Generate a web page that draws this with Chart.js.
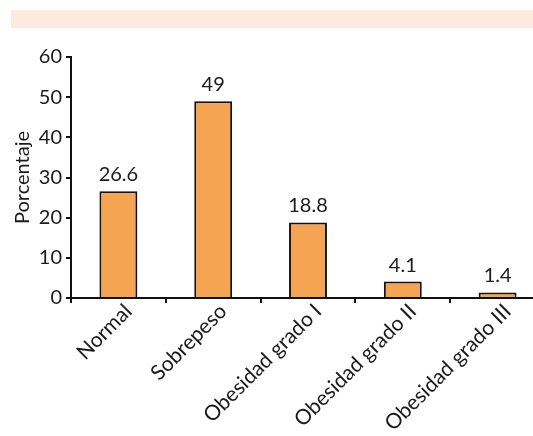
<!DOCTYPE html>
<html>
<head>
<meta charset="utf-8">
<script src="https://cdn.jsdelivr.net/npm/chart.js@4/dist/chart.umd.min.js"></script>
<style>
    html, body { margin: 0; padding: 0; background: #fff; overflow: hidden; width: 533px; height: 436px; }
    #band { position: absolute; left: 11px; top: 10px; width: 522px; height: 18px; background: #fcebdd; }
    #wrap { position: absolute; left: 0; top: 0; width: 545px; height: 436px; }
</style>
</head>
<body>
<div id="band"></div>
<div id="wrap"><canvas id="bmi-chart"></canvas></div>
<script>
const categories = ["Normal", "Sobrepeso", "Obesidad grado I", "Obesidad grado II", "Obesidad grado III"];
const percentages = [26.6, 49, 18.8, 4.1, 1.4];
const yTicks = [0, 10, 20, 30, 40, 50, 60];

const FONT = "Lato, 'Open Sans', sans-serif";
const INK = "#1a1a1a";

// writes each bar's value just above it
const valueLabels = {
    id: "valueLabels",
    afterDatasetsDraw(chart){
        const ctx = chart.ctx;
        const meta = chart.getDatasetMeta(0);
        ctx.save();
        ctx.font = `20px ${FONT}`;
        ctx.fillStyle = INK;
        ctx.textAlign = "center";
        ctx.textBaseline = "alphabetic";
        meta.data.forEach((bar, i)=>{
            ctx.fillText(String(percentages[i]), bar.x, bar.y - 10);
        });
        ctx.restore();
    }
};

const ctx = document.querySelector("#bmi-chart").getContext("2d");
new Chart(ctx, {
    type: "bar",
    data: {
        labels: categories,
        datasets: [{
            data: percentages,
            backgroundColor: "#f5a452",
            borderColor: "#111",
            borderWidth: 2,
            borderSkipped: "bottom",
            barPercentage: 0.4,
            categoryPercentage: 1.0
        }]
    },
    options: {
        responsive: true,
        maintainAspectRatio: false,
        animation: false,
        layout: { padding: { top: 57, left: 0, right: 0, bottom: 0 } },
        plugins: { legend: { display: false }, tooltip: { enabled: false } },
        scales: {
            x: {
                offset: true,
                grid: { display: true, drawOnChartArea: false, offset: true, tickLength: 5, color: "#111", lineWidth: 2 },
                border: { display: true, color: "#111", width: 2 },
                ticks: {
                    autoSkip: false,
                    minRotation: 45,
                    maxRotation: 45,
                    padding: -4,
                    labelOffset: 10,
                    color: INK,
                    font: { family: FONT, size: 21 }
                },
                afterFit(scale){ scale.height = 138; }
            },
            y: {
                min: 0,
                max: 60,
                afterBuildTicks(scale){ scale.ticks = yTicks.map(v => ({ value: v })); },
                grid: { display: true, drawOnChartArea: false, tickLength: 5, color: "#111", lineWidth: 2 },
                border: { display: true, color: "#111", width: 2 },
                ticks: { padding: 4, color: INK, font: { family: FONT, size: 20 } },
                title: { display: true, text: "Porcentaje", color: INK, font: { family: FONT, size: 20 }, padding: { top: 11, bottom: 0 } },
                afterFit(scale){ scale.width = 71; }
            }
        }
    },
    plugins: [valueLabels]
});
</script>
</body>
</html>
